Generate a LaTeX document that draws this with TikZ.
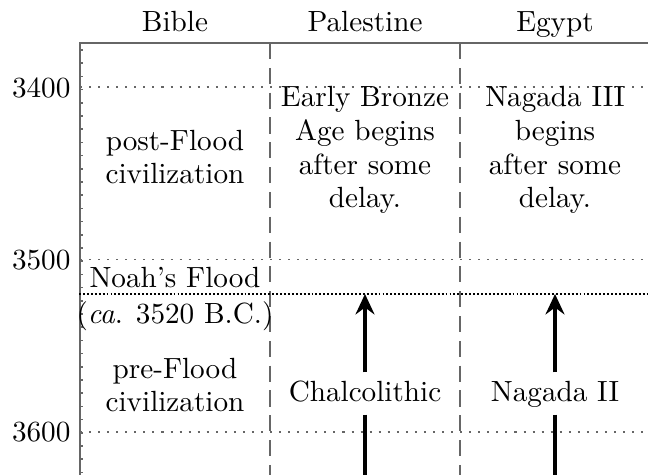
\documentclass[tikz,border=0pt]{standalone}
\usetikzlibrary{arrows.meta}
\begin{document}
\begin{tikzpicture}[x=0.3425pt,y=-0.3425pt,
  axisline/.style={draw=black!60, line width=0.75pt},
  sepline/.style={draw=black!60, line width=0.55pt, dash pattern=on 5.5pt off 3pt},
  gridline/.style={draw=black!60, line width=0.55pt, dash pattern=on 0.7pt off 2.4pt},
  floodline/.style={draw=black, line width=0.95pt, dash pattern=on 0.65pt off 0.7pt},
  tickmark/.style={draw=black!60, line width=0.5pt},
  hdr/.style={anchor=base, inner sep=0pt},
  yearlbl/.style={anchor=east, inner sep=0pt},
  cell/.style={align=center, inner sep=0pt, font=\fontsize{10}{11.6}\selectfont},
  flowlbl/.style={anchor=base, text height=7pt, text depth=1.9pt, inner sep=2.6pt},
  arrowline/.style={draw=black, line width=1.1pt, -{Stealth[length=7pt,width=6.5pt,inset=2.4pt]}},
  shaftline/.style={draw=black, line width=1.1pt}]
\useasboundingbox (0,0) rectangle (648,474);

% frame coordinates
\coordinate (tl) at (80,43);
\coordinate (tr) at (648,43);
\coordinate (bl) at (80,476);
\coordinate (s1t) at (270,43);
\coordinate (s1b) at (270,476);
\coordinate (s2t) at (460,43);
\coordinate (s2b) at (460,476);
\coordinate (g1l) at (80,87);   \coordinate (g1r) at (648,87);
\coordinate (g2l) at (80,259.5);\coordinate (g2r) at (648,259.5);
\coordinate (g3l) at (80,432);  \coordinate (g3r) at (648,432);
\coordinate (fl) at (79,294);   \coordinate (fr) at (648,294);

% grid
\draw[gridline] (g1l) -- (g1r);
\draw[gridline] (g2l) -- (g2r);
\draw[gridline] (g3l) -- (g3r);
\draw[sepline] (s1t) -- (s1b);
\draw[sepline] (s2t) -- (s2b);
\foreach \yy in {50,63.2,...,474} \draw[tickmark] (80,\yy) -- (83,\yy);
\draw[axisline] (tr) -- (tl) -- (bl);
\draw[floodline] (fl) -- (fr);

% headers
\node[hdr] (hb) at (175,31) {Bible};
\node[hdr] (hp) at (365,31) {Palestine};
\node[hdr] (he) at (555,31) {Egypt};

% years
\node[yearlbl] (y1) at (71,88) {3400};
\node[yearlbl] (y2) at (71,260) {3500};
\node[yearlbl] (y3) at (71,432.5) {3600};

% cells
\node[cell] (post) at (175,157) {post-Flood\\civilization};
\node[cell] (eb) at (365,150) {Early Bronze\\Age begins\\after some\\delay.};
\node[cell] (n3) at (555,150) {Nagada III\\begins\\after some\\delay.};
\node[hdr] (noah) at (175,287) {Noah's Flood};
\node[hdr] (ca) at (175,323) {(\textit{ca}. 3520 B.C.)};
\node[cell] (pre) at (175,385) {pre-Flood\\civilization};
\node[flowlbl] (chal) at (365,401) {Chalcolithic};
\node[flowlbl] (n2) at (555,401) {Nagada II};

% arrows
\draw[arrowline] (chal.north) -- (chal.north |- fl);
\draw[shaftline] (chal.south) -- (chal.south |- bl);
\draw[arrowline] (n2.north) -- (n2.north |- fl);
\draw[shaftline] (n2.south) -- (n2.south |- bl);
\end{tikzpicture}
\end{document}
